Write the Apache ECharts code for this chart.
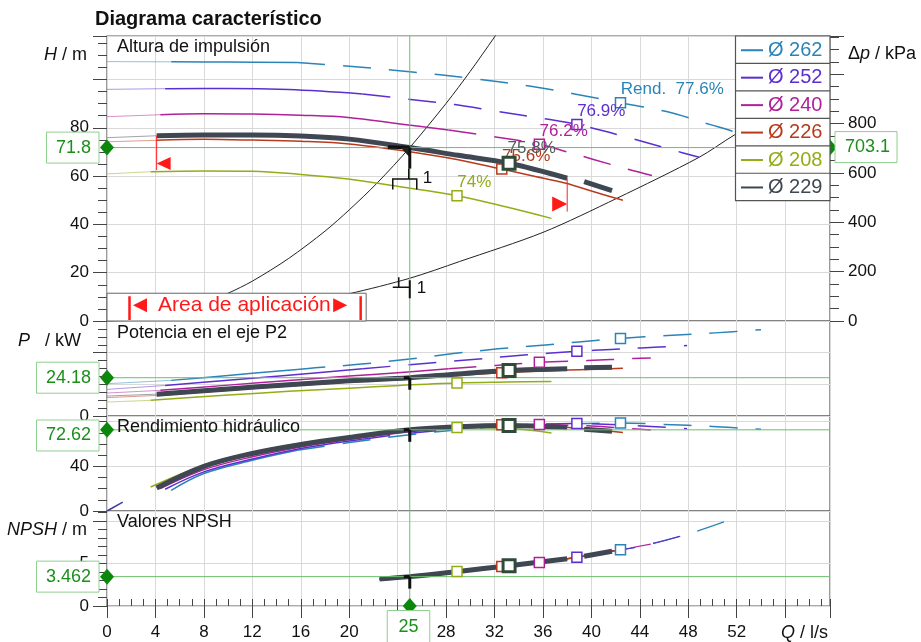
<!DOCTYPE html>
<html>
<head>
<meta charset="utf-8">
<script src="https://cdn.jsdelivr.net/npm/echarts@6/dist/echarts.min.js"></script>
<style>
html,body{margin:0;padding:0;background:#ffffff;}
#chart{width:921px;height:642px;}
</style>
</head>
<body>
<div id="chart"></div>
<script>
// ---------------- data ----------------
const Q_MAX = 59.7, H_MAX = 118, P_MAX = 60, ETA_MAX = 85, NPSH_MAX = 11.2;
const KPA_PER_M = 9.7925;           // 71.8 m <-> 703.1 kPa
const Q_TICKS = [0,4,8,12,16,20,24,28,32,36,40,44,48,52];
const H_TICKS = [0,20,40,60,80];
const DP_TICKS = [0,200,400,600,800];
const P_TICKS = [0];
const ETA_TICKS = [0,40];
const NPSH_TICKS = [0,5];

const names  = ['Ø 262','Ø 252','Ø 240','Ø 226','Ø 208','Ø 229'];
const colors = ['#2a84b8','#5b2fcf','#b0209a','#b83a1c','#93ad16','#3e4752'];
const qMinFlow  = [5.3, 4.8, 4.4, 4.1, 3.6, 4.1];   // start of regular curve
const qDashFrom = [15.7, 21.1, 28.2, null, null, 38]; // start of dashed part
const qTail229 = 39.4;

// Head H (m)
const H262 = [[0,107.4],[5.3,107.3],[10,107.2],[15.7,107.0],[20,105.5],[25,103.2],[30,100.5],[35,97.2],[38.6,94.0],[42.4,90.4],[46.2,86.7],[49.9,81.2],[52,78.0],[54,74.5]];
const H252 = [[0,95.9],[4.8,96.2],[10,96.3],[15,95.8],[21.1,94.0],[24.8,91.9],[28.7,89.6],[32,87.0],[36.3,83.6],[38.8,81.4],[43.3,75.6],[47.5,69.7],[48.9,67.8]];
const H240 = [[0,84.6],[4.4,85.4],[8,85.8],[12,85.7],[16,85.2],[19.9,84.3],[24.2,81.6],[28.2,79.1],[31.5,76.7],[35.7,73.2],[38,70.0],[40.1,67.0],[43.1,62.7],[45,60.2]];
const H226 = [[0,74.2],[4.1,74.8],[8,75.2],[12,74.9],[16,74.4],[20,73.3],[25,70.1],[29,66.8],[32.6,62.9],[35,60.2],[37.9,57.0],[40,53.8],[42.6,50.0]];
const H208 = [[0,60.9],[3.6,61.8],[8,62.1],[12,62.0],[16,60.7],[19.9,58.8],[24.2,55.6],[28.9,51.9],[33,47.2],[36.7,42.5]];
const H229 = [[0,75.9],[4.1,76.7],[8,77.0],[12,77.0],[16,76.6],[20,75.3],[25,71.8],[29,68.6],[33.2,65.3],[38,59.1],[39.4,57.7],[41.7,54.0]];

// System curves (m)
const SYS1 = [[0,0],[4,1.8],[8,7.4],[10,11.5],[12,16.5],[15,25.9],[18,37.2],[20,46.0],[22.3,57.1],[25,71.8],[28,90.1],[30,103.4],[32,117.6],[32.2,119.2]];
const SYS2 = [[0,0],[5,0.7],[10,2.8],[15,6.4],[20,11.3],[25,17.7],[29.1,24.6],[36,36.7],[42.1,50.8],[48.9,67.8],[51.8,77.0],[56,88.7],[59.7,100.9]];

// Shaft power P2 (kW)
const P262 = [[0,20.4],[5.3,22.5],[10,25.6],[15.7,29.4],[17.2,30.4],[21,32.8],[24.8,35.8],[28.6,39.4],[32.3,42.4],[36.2,44.9],[38.7,46.6],[42.4,49.0],[46.3,50.9],[50.2,52.5],[54,54.5]];
const P252 = [[0,16.8],[4.8,19.3],[10,22.6],[15,25.8],[21.1,29.8],[25,32.4],[30.2,35.7],[33,37.6],[36.4,39.6],[38.8,40.9],[41.6,42.0],[44.1,43.0],[47.9,44.5]];
const P240 = [[0,14.5],[4.4,16.2],[10,19.5],[15,22.4],[20,25.2],[24,27.3],[28.2,29.8],[32.1,31.9],[35.7,33.9],[39.7,35.0],[43.5,36.3],[44.9,36.7]];
const P226 = [[0,11.6],[4.1,13.0],[10,16.3],[15,19.0],[20,21.4],[25,23.6],[29,25.6],[32.6,27.3],[36,28.4],[38.1,29.0],[40,29.5],[42.6,30.1]];
const P208 = [[0,8.8],[3.6,9.9],[10,13.2],[15,15.6],[20,17.6],[24.2,19.3],[28.9,20.8],[33,21.4],[36.7,21.8]];
const P229 = [[0,12.6],[4.1,13.8],[10,17.0],[15,19.8],[20,22.2],[25,24.18],[29,26.6],[33.2,28.7],[38,29.8],[39.4,30.4],[41.7,30.8]];

// Hydraulic efficiency (%)
const E262 = [[5.3,18.5],[8,33.5],[12,45.4],[15.7,54.3],[20,61.2],[25,68.3],[30,73.5],[35,76.8],[42.4,78.7],[46,77.5],[50,75.6],[54,73.1]];
const E252 = [[4.8,19.5],[8,35.0],[12,46.5],[16,56.0],[21.1,64.3],[25,69.5],[30,74.5],[34,77.0],[38.8,78.2],[43,76.8],[47.9,73.7]];
const E240 = [[4.4,20.0],[8,37.0],[12,48.5],[16,57.3],[20,64.0],[25,71.0],[28.2,74.0],[32,76.3],[35.7,77.3],[40,76.0],[43,73.9],[44.9,72.5]];
const E226 = [[4.1,21.0],[8,39.0],[12,50.5],[16,58.8],[20,65.2],[25,72.0],[29,75.5],[32.6,77.2],[36,76.5],[40,73.0],[42.6,70.2]];
const E208 = [[3.6,21.5],[8,41.0],[12,52.5],[16,60.7],[20,66.5],[25,72.3],[28.9,74.6],[33,74.0],[36.7,69.8]];
const E229 = [[4.1,20.5],[8,40.0],[12,51.5],[16,59.5],[20,65.8],[25,72.62],[29,75.3],[33.2,76.4],[38,74.6],[39.4,73.2],[41.7,71.3]];
const E_ORIGIN = [[0,0],[1.3,8]];

// NPSH (m)
const N262 = [[22.5,3.18],[25,3.46],[29,4.08],[32.5,4.67],[35.7,5.14],[38.9,5.76],[42.4,6.64],[44,7.0],[48,8.5],[51.5,10.2]];
const N252 = [[22.5,3.18],[25,3.46],[29,4.08],[32.5,4.67],[35.7,5.14],[38.8,5.76],[42.4,6.64],[44,7.0],[47.9,8.45]];
const N240 = [[22.5,3.18],[25,3.46],[28.2,3.97],[32.5,4.67],[35.7,5.14],[38.9,5.76],[42.4,6.64],[44.9,7.3]];
const N226 = [[22.5,3.18],[25,3.46],[29,4.08],[32.6,4.67],[35.7,5.14],[38.9,5.76],[42.6,6.68]];
const N208 = [[22.5,3.18],[25,3.46],[28.9,4.08],[32.5,4.67],[35.7,5.14],[36.7,5.33]];
const N229 = [[22.5,3.18],[25,3.462],[29,4.08],[33.2,4.75],[38,5.58],[39.4,5.86],[41.7,6.45]];

// Rated (best efficiency) points
const ratedQ     = [42.4, 38.8, 35.7, 32.6, 28.9, 33.2];
const ratedH     = [90.4, 81.4, 73.2, 62.9, 51.9, 65.3];
const ratedP     = [49.0, 40.9, 33.9, 27.3, 20.8, 28.7];
const ratedEta   = [78.7, 78.2, 77.3, 77.2, 74.6, 76.4];
const ratedNPSH  = [6.64, 5.76, 5.14, 4.67, 4.08, 4.75];
const ratedLabel = ['Rend.  77.6%','76.9%','76.2%','75.6%','74%','75.8%'];

// Duty point
const dutyQ = 25, dutyH = 71.8, dutyDp = 703.1, dutyP = 24.18, dutyEta = 72.62, dutyNPSH = 3.462;
const sys2AtDuty = 17.7;
// Application range (Q) and end markers (H)
const appQ = [4.1, 38];
const appHTop = [76.7, 59.1];
const appHBottom = [62.5, 45.3];

// ---------------- chart ----------------
const FONT = '"Liberation Sans", Arial, Helvetica, sans-serif';
const GRIDC = '#d9d9d9', BORDER = '#5a5a5a', TICKC = '#444';
const GREEN_LINE = '#6cbf6c', GREEN_TXT = '#1a8f1a', GREEN_BOX = '#8fcf8f', GREEN_DIA = '#0b880b';

const Hs = [H262,H252,H240,H226,H208,H229];
const Ps = [P262,P252,P240,P226,P208,P229];
const Es = [E262,E252,E240,E226,E208,E229];
const Ns = [N262,N252,N240,N226,N208,N229];

const gridBoxes = [[36,285],[321,95],[416,95],[511,95]];
const grids = gridBoxes.map(b => ({left:107, right:91, top:b[0], height:b[1], show:true,
  borderColor:BORDER, borderWidth:1.2, backgroundColor:'rgba(0,0,0,0)', containLabel:false, outerBoundsMode:'none'}));

const lab = {fontSize:17, color:'#111', fontFamily:FONT};
const xAxes = [0,1,2,3].map(i => ({
  type:'value', gridIndex:i, min:0, max:Q_MAX, interval:4,
  axisLine:{show:false},
  axisTick:{show:i===3, length:12, lineStyle:{color:TICKC}},
  axisLabel:Object.assign({show:i===3, margin:18, formatter:v => (Q_TICKS.includes(v) ? String(v) : '')}, lab),
  splitLine:{show:true, lineStyle:{color:GRIDC, width:1}}
}));
xAxes.push({type:'value', gridIndex:3, min:0, max:Q_MAX, interval:1, axisLine:{show:false},
  axisTick:{show:true, length:7, lineStyle:{color:TICKC}}, axisLabel:{show:false}, splitLine:{show:false}});

function yMajor(g, max, interval, ticks, pos, split, tickLen) {
  return {type:'value', gridIndex:g, min:0, max:max, interval:interval, position:pos,
    axisLine:{show:false}, axisTick:{show:true, length:tickLen, lineStyle:{color:TICKC}},
    axisLabel:Object.assign({show:true, margin:18, formatter:v => (ticks.includes(v) ? String(v) : '')}, lab),
    splitLine:{show:split, lineStyle:{color:GRIDC, width:1}}};
}
function yMinor(g, max, interval, pos, tickLen) {
  return {type:'value', gridIndex:g, min:0, max:max, interval:interval, position:pos,
    axisLine:{show:false}, axisTick:{show:true, length:tickLen, lineStyle:{color:TICKC}},
    axisLabel:{show:false}, splitLine:{show:false}};
}
const yAxes = [
  yMajor(0, H_MAX, 20, H_TICKS, 'left', true, 14),
  yMajor(0, H_MAX*KPA_PER_M, 200, DP_TICKS, 'right', false, 14),
  yMajor(1, P_MAX, 20, P_TICKS, 'left', true, 14),
  yMajor(2, ETA_MAX, 40, ETA_TICKS, 'left', true, 14),
  yMajor(3, NPSH_MAX, 5, NPSH_TICKS, 'left', true, 14),
  yMinor(0, H_MAX, 5, 'left', 9),
  yMinor(0, H_MAX*KPA_PER_M, 50, 'right', 9),
  yMinor(1, P_MAX, 5, 'left', 9),
  yMinor(2, ETA_MAX, 10, 'left', 9),
  yMinor(3, NPSH_MAX, 1, 'left', 9)
];

const series = [];
function line(gi, yi, data, color, width, type, opacity, z, smooth) {
  return {type:'line', xAxisIndex:gi, yAxisIndex:yi, data:data, symbol:'none', showSymbol:false,
    smooth:(smooth==null?0.35:smooth), silent:true, animation:false, z:(z||2),
    lineStyle:{color:color, width:width, type:(type||'solid'), opacity:(opacity==null?1:opacity), cap:'butt', join:'round'}};
}
function seg(arr, a, b) { return arr.filter(p => p[0] >= a - 1e-9 && p[0] <= b + 1e-9); }

// duty-point guide lines (first four series: one per panel, used for pixel conversion)
const panelY = [0, 2, 3, 4];
const dutyVals = [dutyH, dutyP, dutyEta, dutyNPSH];
const panelMax = [H_MAX, P_MAX, ETA_MAX, NPSH_MAX];
for (let g = 0; g < 4; g++) {
  series.push(line(g, panelY[g], [[0, dutyVals[g]], [Q_MAX, dutyVals[g]]], GREEN_LINE, 1, 'solid', 1, 6, false));
}
for (let g = 0; g < 4; g++) {
  series.push(line(g, panelY[g], [[dutyQ, 0], [dutyQ, panelMax[g]]], GREEN_LINE, 1, 'solid', 1, 6, false));
}

// system curves
series.push(line(0, 0, SYS1, '#222', 1, 'solid', 1, 3, 0.3));
series.push(line(0, 0, SYS2, '#222', 1, 'solid', 1, 3, 0.3));

// pump curves
const panelData = [Hs, Ps, Es, Ns];
const thinStart = [true, true, false, false];
for (let k = 0; k < 6; k++) {
  const sel = (k === 5);
  for (let g = 0; g < 4; g++) {
    const arr = panelData[g][k];
    const yi = panelY[g];
    const w = sel ? 5 : 1.5;
    const z = sel ? 5 : 3;
    if (thinStart[g]) {
      const t = seg(arr, 0, qMinFlow[k]);
      if (t.length > 1) series.push(line(g, yi, t, colors[k], 1, 'solid', 0.5, z));
    }
    const solidEnd = qDashFrom[k] == null ? 1e9 : qDashFrom[k];
    const s = seg(arr, qMinFlow[k], solidEnd);
    if (s.length > 1) series.push(line(g, yi, s, colors[k], w, 'solid', 1, z));
    if (qDashFrom[k] != null) {
      if (sel) {
        const t = seg(arr, qTail229, 1e9);
        if (t.length > 1) series.push(line(g, yi, t, colors[k], w, 'solid', 1, z));
      } else {
        const d = seg(arr, qDashFrom[k], 1e9);
        if (d.length > 1) series.push(line(g, yi, d, colors[k], (g === 3 ? 1.2 : w), [28, 18], 1, z));
      }
    }
  }
}
series.push(line(2, 3, E_ORIGIN, '#3b3f9a', 1.5, 'solid', 1, 3, false));

// application range red lines
for (let i = 0; i < 2; i++) {
  series.push(line(0, 0, [[appQ[i], appHTop[i]], [appQ[i], appHBottom[i]]], '#ff2020', 1, 'solid', 1, 6, false));
}

// rated points
const ratedVals = [ratedH, ratedP, ratedEta, ratedNPSH];
for (let k = 0; k < 6; k++) {
  const sel = (k === 5);
  for (let g = 0; g < 4; g++) {
    const s = {type:'scatter', xAxisIndex:g, yAxisIndex:panelY[g], data:[[ratedQ[k], ratedVals[g][k]]],
      symbol:'rect', symbolSize: sel ? 12 : 10, silent:true, animation:false, z: sel ? 9 : 8, clip:false,
      itemStyle:{color:'#ffffff', opacity:1, borderColor: sel ? '#2f4a38' : colors[k], borderWidth: sel ? 3 : 1.5}};
    if (g === 0) {
      s.label = {show:true, formatter: ratedLabel[k], position:[6, 1], align:'left', verticalAlign:'bottom',
        fontSize:17, fontFamily:FONT, color: sel ? '#4d5e55' : colors[k]};
    }
    series.push(s);
  }
}

// duty diamonds
const dia = (g, yi, pt) => ({type:'scatter', xAxisIndex:g, yAxisIndex:yi, data:[pt], symbol:'diamond',
  symbolSize:[14,16], clip:false, silent:true, animation:false, z:12, itemStyle:{color:GREEN_DIA, opacity:1}});
series.push(dia(0, 0, [0, dutyH]));
series.push(dia(0, 0, [Q_MAX, dutyH]));
series.push(dia(1, 2, [0, dutyP]));
series.push(dia(2, 3, [0, dutyEta]));
series.push(dia(3, 4, [0, dutyNPSH]));
series.push(dia(3, 4, [dutyQ, 0]));

const chart = echarts.init(document.getElementById('chart'), null, {renderer:'canvas'});
chart.setOption({
  animation:false,
  backgroundColor:'#ffffff',
  textStyle:{fontFamily:FONT},
  grid:grids, xAxis:xAxes, yAxis:yAxes, series:series
});

// ---------------- annotations (positions from the chart's own scales) ----------------
const px = (g, v) => chart.convertToPixel({seriesIndex:g}, v);
const Gr = [];
const T = (x, y, text, o) => Gr.push({type:'text', z:120, style:Object.assign({x:x, y:y, text:text,
  fontSize:18, fontFamily:FONT, fill:'#111', align:'left', verticalAlign:'middle'}, o || {})});
const L = (pts, color, w, z) => Gr.push({type:'polyline', z:z||110, shape:{points:pts}, style:{stroke:color, lineWidth:w, fill:null}});
const R = (x, y, w, h, stroke, z) => Gr.push({type:'rect', z:z||100, shape:{x:x, y:y, width:w, height:h}, style:{fill:'#ffffff', stroke:stroke, lineWidth:1}});
const POLY = (pts, color, z) => Gr.push({type:'polygon', z:z||110, shape:{points:pts}, style:{fill:color}});

T(95, 19, 'Diagrama característico', {fontSize:20, fontWeight:'bold'});
T(117, 47, 'Altura de impulsión');
T(117, 333, 'Potencia en el eje P2');
T(117, 427, 'Rendimiento hidráulico');
T(117, 522, 'Valores NPSH');

const rich = {i:{fontStyle:'italic', fontSize:18, fontFamily:FONT, fill:'#111'}, n:{fontSize:18, fontFamily:FONT, fill:'#111'}};
T(87, 55, '{i|H}{n| / m}', {align:'right', rich:rich});
T(18, 341, '{i|P}{n|   / kW}', {rich:rich});
T(87, 530, '{i|NPSH}{n| / m}', {align:'right', rich:rich});
T(848, 54, '{n|Δ}{i|p}{n| / kPa}', {rich:rich});
T(781, 633, '{i|Q}{n| / l/s}', {rich:rich});

// application area box
const a0 = px(0, [0, 0]);
const a1 = px(0, [21.4, 11.5]);
R(a0[0], a1[1], a1[0] - a0[0], a0[1] - a1[1], '#666', 100);
const ay = a1[1] + 12;
L([[a0[0] + 22.5, a1[1] + 3], [a0[0] + 22.5, a0[1] - 1]], '#ff1a1a', 2.5, 111);
L([[a1[0] - 5.5, a1[1] + 3], [a1[0] - 5.5, a0[1] - 1]], '#ff1a1a', 2.5, 111);
POLY([[a0[0] + 26, ay], [a0[0] + 40, ay - 7], [a0[0] + 40, ay + 7]], '#ff1a1a', 111);
POLY([[a1[0] - 19, ay], [a1[0] - 33, ay - 7], [a1[0] - 33, ay + 7]], '#ff1a1a', 111);
T(a0[0] + 51, ay, 'Area de aplicación', {fontSize:21, fill:'#ff1a1a', z:111});

// application range triangles at the curve
const r0 = px(0, [appQ[0], appHBottom[0]]);
POLY([[r0[0], r0[1] - 6.5], [r0[0] + 14, r0[1] - 13], [r0[0] + 14, r0[1]]], '#ff1a1a', 60);
const r1 = px(0, [appQ[1], appHBottom[1]]);
POLY([[r1[0], r1[1] - 7.5], [r1[0] - 15, r1[1] - 15], [r1[0] - 15, r1[1]]], '#ff1a1a', 60);

// duty point symbols
const pH = px(0, [dutyQ, dutyH]);
L([[pH[0] - 22, pH[1] - 0.5], [pH[0], pH[1]]], '#111', 3.5, 60);
POLY([[pH[0] - 9, pH[1]], [pH[0], pH[1]], [pH[0] - 1, pH[1] + 9]], '#222', 60);
L([[pH[0], pH[1]], [pH[0], pH[1] + 21]], '#111', 3, 60);
L([[pH[0] - 1, pH[1] + 21], [pH[0] - 1, pH[1] + 31.5]], '#111', 1.5, 60);
L([[pH[0] - 17, pH[1] + 42], [pH[0] - 17, pH[1] + 31.5], [pH[0] + 7, pH[1] + 31.5], [pH[0] + 7, pH[1] + 42]], '#111', 1.5, 60);
T(pH[0] + 13, pH[1] + 31, '1', {fontSize:17, z:60});

const pS = px(0, [dutyQ, sys2AtDuty]);
L([[pS[0], pS[1] + 2], [pS[0], pS[1] + 20]], '#111', 2, 60);
L([[pS[0] - 17, pS[1] + 9], [pS[0], pS[1] + 9]], '#111', 1.5, 60);
L([[pS[0] - 11, pS[1] - 1], [pS[0] - 11, pS[1] + 9]], '#111', 1.5, 60);
T(pS[0] + 7, pS[1] + 10, '1', {fontSize:17, z:60});

[[1, dutyP], [2, dutyEta], [3, dutyNPSH]].forEach(function (d) {
  const p = px(d[0], [dutyQ, d[1]]);
  L([[p[0], p[1]], [p[0], p[1] + 12]], '#111', 3, 60);
  L([[p[0] - 6, p[1]], [p[0], p[1]]], '#111', 3, 60);
});

// value boxes
function leftBox(g, v, text) {
  const p = px(g, [0, v]);
  const h = 31;
  let top = p[1] - h / 2;
  const gTop = gridBoxes[g][0] + 4;
  if (top < gTop) top = gTop;
  const w = text.length >= 5 ? 62.5 : 52.5;
  R(p[0] - 8 - w, top, w, h, GREEN_BOX, 100);
  T(p[0] - 16, top + h / 2, text, {fontSize:18, fill:GREEN_TXT, align:'right', z:101});
}
leftBox(0, dutyH, String(dutyH));
leftBox(1, dutyP, String(dutyP));
leftBox(2, dutyEta, String(dutyEta));
leftBox(3, dutyNPSH, String(dutyNPSH));
const pr = px(0, [Q_MAX, dutyH]);
R(pr[0] + 5, pr[1] - 16, 62, 31, GREEN_BOX, 100);
T(pr[0] + 15, pr[1] - 0.5, String(dutyDp), {fontSize:18, fill:GREEN_TXT, z:101});
const pq = px(3, [dutyQ, 0]);
R(pq[0] - 22.5, pq[1] + 4.5, 42.5, 34, GREEN_BOX, 100);
T(pq[0] - 1.3, pq[1] + 21, String(dutyQ), {fontSize:18, fill:GREEN_TXT, align:'center', z:101});

// legend
const LX0 = 735.5, LX1 = 830, LY0 = 36, ROW = 27.45;
Gr.push({type:'rect', z:100, shape:{x:LX0, y:LY0, width:LX1 - LX0, height:ROW * 6}, style:{fill:'#ffffff', stroke:'#555', lineWidth:1.2}});
for (let k = 0; k < 6; k++) {
  const cy = LY0 + ROW * k + ROW / 2 + 0.5;
  if (k > 0) L([[LX0, LY0 + ROW * k], [LX1, LY0 + ROW * k]], '#555', 1.2, 101);
  L([[741, cy], [763, cy]], colors[k], 2, 101);
  T(768, cy, names[k], {fontSize:20, fill:colors[k], z:101});
}

chart.setOption({graphic:{elements:Gr}});
</script>
</body>
</html>
